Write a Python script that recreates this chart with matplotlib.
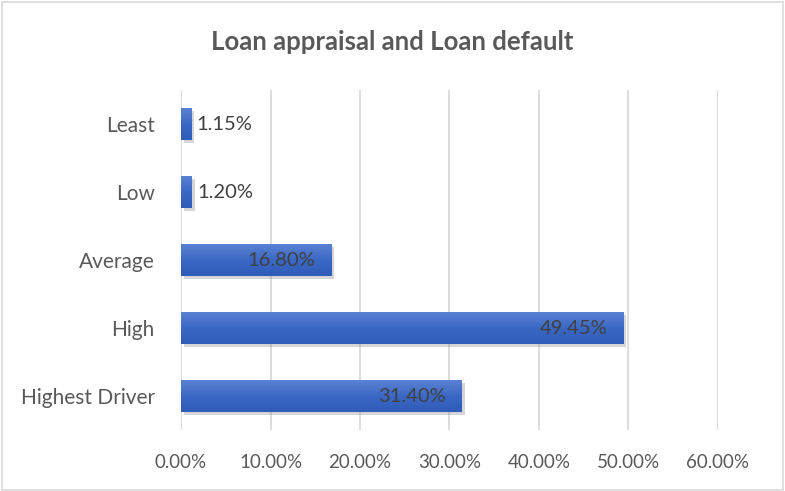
import numpy as np
import matplotlib
matplotlib.use('Agg')
import matplotlib.pyplot as plt
import matplotlib.patheffects as pe
from matplotlib.patches import Rectangle
from matplotlib.colors import LinearSegmentedColormap

categories = ['Least', 'Low', 'Average', 'High', 'Highest Driver']
values = [1.15, 1.20, 16.80, 49.45, 31.40]  # percent
xticks = [0, 10, 20, 30, 40, 50, 60]

plt.rcParams['font.family'] = ['Lato', 'DejaVu Sans']
grey = '#595959'

fig = plt.figure(figsize=(7.85, 4.91), dpi=100)
ax = fig.add_axes([0.2306, 0.1242, 0.684, 0.6925])

# chart border
fig.patches.append(Rectangle((0.002, 0.003), 0.995, 0.993, transform=fig.transFigure,
                             fill=False, edgecolor='#d9d9d9', linewidth=1.2))

ypos = np.arange(len(categories))
bars = ax.barh(ypos, values, height=0.47, color='#4472c4', zorder=3,
               path_effects=[pe.SimplePatchShadow(offset=(2, -2), shadow_rgbFace='#888888', alpha=0.35),
                             pe.Normal()])

# vertical gradient on each bar
grad = LinearSegmentedColormap.from_list('g', ['#5a82d2', '#3a68c4', '#2e5cb8'])
for b in bars:
    x0, y0 = b.get_x(), b.get_y()
    w, h = b.get_width(), b.get_height()
    im = ax.imshow(np.linspace(0, 1, 64).reshape(-1, 1), cmap=grad, aspect='auto',
                   extent=(x0, x0 + w, y0 + h, y0), origin='upper', zorder=4)
    im.set_clip_path(b)

for y, v in zip(ypos, values):
    label = f'{v:.2f}%'
    if v < 5:
        ax.text(v + 0.6, y, label, va='center', ha='left', fontsize=14.5, color='#404040', zorder=5)
    else:
        ax.text(v - 1.8, y, label, va='center', ha='right', fontsize=14.5, color='#404040', zorder=5)

ax.set_xlim(0, 60)
ax.set_ylim(len(categories) - 0.5, -0.5)
ax.set_xticks(xticks)
ax.set_xticklabels([f'{t:.2f}%' for t in xticks])
ax.set_yticks(ypos)
ax.set_yticklabels(categories)
ax.tick_params(axis='both', length=0, labelcolor=grey)
ax.tick_params(axis='x', pad=17, labelsize=13.5)
ax.tick_params(axis='y', pad=19, labelsize=15)
ax.grid(axis='x', color='#d9d9d9', linewidth=1.3, zorder=0)
for s in ax.spines.values():
    s.set_visible(False)

fig.text(0.5, 0.915, 'Loan appraisal and Loan default', ha='center', va='center',
         fontsize=18.5, fontweight='bold', color=grey)

fig.savefig('out.png', dpi=100)
